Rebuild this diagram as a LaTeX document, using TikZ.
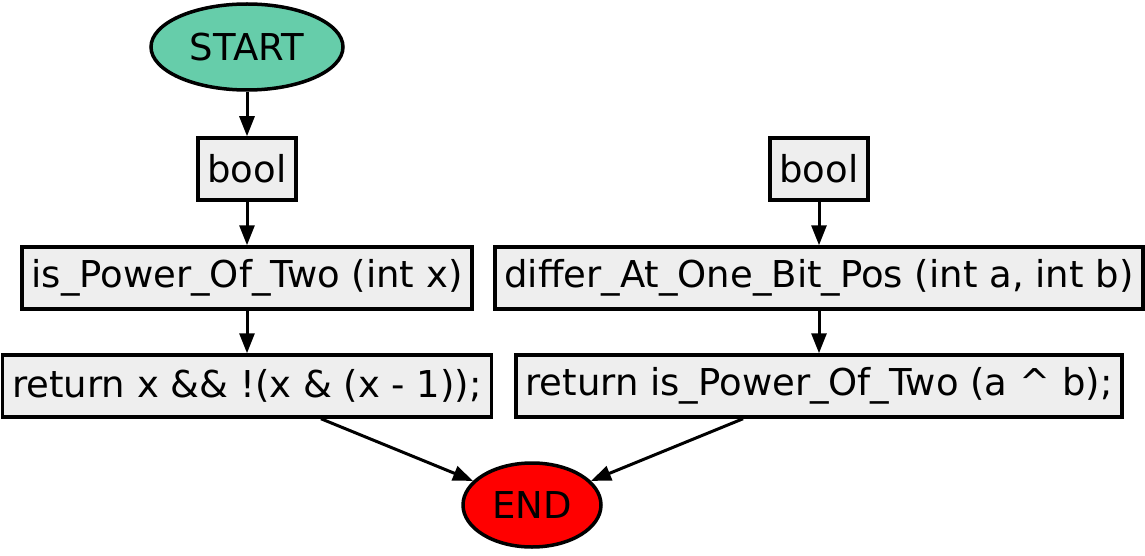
\documentclass[tikz,border=0pt]{standalone}
\usepackage{fontspec}
\setmainfont{DejaVu Sans}
\usetikzlibrary{arrows.meta,shapes.geometric}

\definecolor{startgreen}{HTML}{66CDAA}
\definecolor{boxgray}{HTML}{EEEEEE}

\tikzset{
    codebox/.style={rectangle,draw,fill=boxgray,line width=3.5pt,minimum height=62pt,inner xsep=9.5pt,font=\fontsize{37}{43}\selectfont},
    terminal/.style={ellipse,draw,line width=3.5pt,font=\fontsize{37}{43}\selectfont},
    flow/.style={-{Triangle[length=20pt,width=15pt]},line width=3pt}
}

\begin{document}
\begin{tikzpicture}[x=1pt,y=-1pt]
    \useasboundingbox (0,0) rectangle (1145,556);

    \node[terminal,fill=startgreen,minimum width=192pt,minimum height=86pt] (start) at (247,47) {START};
    \node[codebox] (boolA) at (247,169) {bool};
    \node[codebox] (pow) at (247,278) {is\_Power\_Of\_Two (int x)};
    \node[codebox] (retA) at (247,386) {return x \&\& !(x \& (x - 1));};

    \node[codebox] (boolB) at (819,169) {bool};
    \node[codebox] (differ) at (819,278) {differ\_At\_One\_Bit\_Pos (int a, int b)};
    \node[codebox] (retB) at (819,386) {return is\_Power\_Of\_Two (a \^{} b);};

    \node[terminal,fill=red,minimum width=138pt,minimum height=84pt] (end) at (532,505) {END};

    \draw[flow] (start) -- (boolA);
    \draw[flow] (boolA) -- (pow);
    \draw[flow] (pow) -- (retA);
    \draw[flow] (boolB) -- (differ);
    \draw[flow] (differ) -- (retB);
    \draw[flow] ([xshift=74pt]retA.south) -- (end);
    \draw[flow] ([xshift=-76pt]retB.south) -- (end);
\end{tikzpicture}
\end{document}
